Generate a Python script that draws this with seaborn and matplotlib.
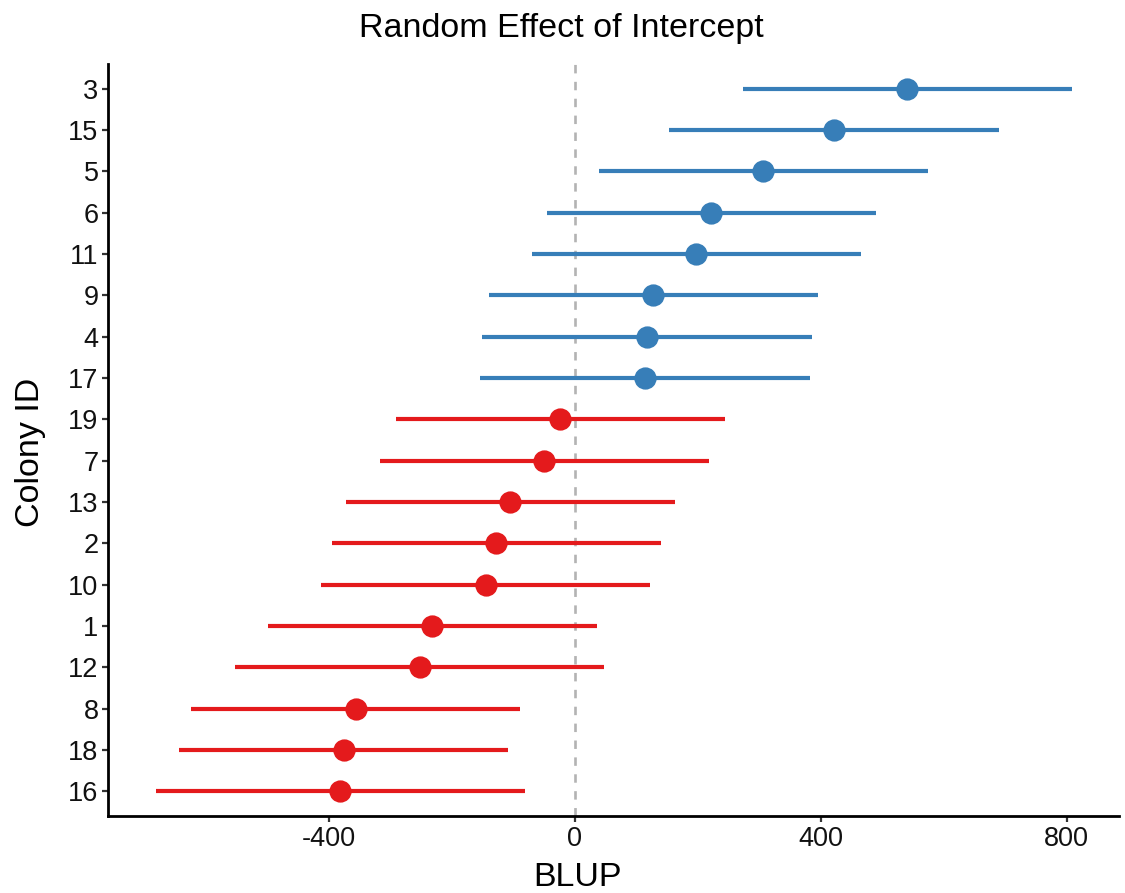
import matplotlib
matplotlib.use("Agg")
import matplotlib.pyplot as plt
import seaborn as sns
import pandas as pd
import numpy as np

# ---- data ----
colony = ["3", "15", "5", "6", "11", "9", "4", "17", "19", "7", "13", "2", "10", "1", "12", "8", "18", "16"]
blup = [541, 421, 306, 222, 197, 128, 118, 114, -23, -50, -105, -127, -144, -232, -252, -355, -375, -381]
lower = [274, 154, 39, -45, -70, -139, -150, -153, -291, -317, -372, -395, -412, -499, -552, -623, -643, -680]
upper = [809, 690, 574, 490, 465, 396, 386, 382, 244, 218, 163, 141, 123, 36, 48, -88, -108, -81]
group = ["pos"] * 8 + ["neg"] * 10
palette = {"pos": "#377EB8", "neg": "#E41A1C"}

# long format: lower / estimate / upper per colony; median -> estimate, 100% PI -> interval
rows = []
for c, b, lo, hi, g in zip(colony, blup, lower, upper, group):
    for v in (lo, b, hi):
        rows.append({"Colony": c, "BLUP": v, "group": g})
df = pd.DataFrame(rows)

sns.set_theme(style="ticks")
plt.rcParams["font.family"] = ["Liberation Sans", "DejaVu Sans"]

W, H = 1125, 893
fig = plt.figure(figsize=(W / 100, H / 100), dpi=100)
ax = fig.add_axes([108.3 / W, 1 - 816 / H, (1119 - 108.3) / W, (816 - 64) / H])

ax.axvline(0, color="#B3B3B3", linestyle=(0, (3.2, 3.2)), linewidth=1.9, zorder=0)

sns.pointplot(data=df, x="BLUP", y="Colony", hue="group", order=colony,
              hue_order=["pos", "neg"], palette=palette,
              estimator="median", errorbar=("pi", 100),
              linestyle="none", markers="o", markersize=14,
              err_kws={"linewidth": 3.0, "solid_capstyle": "butt"},
              dodge=False, legend=False, ax=ax)

ax.set_xlim(-758, 885)
ax.set_ylim(len(colony) - 1 + 0.6, -0.6)
ax.set_xticks([-400, 0, 400, 800])
ax.set_xticklabels(["-400", "0", "400", "800"])
ax.set_xlabel("")
ax.set_ylabel("")

for s in ["top", "right"]:
    ax.spines[s].set_visible(False)
for s in ["left", "bottom"]:
    ax.spines[s].set_color("black")
    ax.spines[s].set_linewidth(2.0)

ax.tick_params(axis="both", which="major", length=4, width=1.6, color="#333333",
               labelsize=19.5, labelcolor="#111111", pad=3)

fig.text(561 / W, 1 - 28 / H, "Random Effect of Intercept", ha="center", va="center",
         fontsize=24.5, color="black")
fig.text(578 / W, 1 - 878 / H, "BLUP", ha="center", va="center", fontsize=24.5, color="black")
fig.text(30 / W, 1 - 452 / H, "Colony ID", ha="center", va="center", rotation=90,
         fontsize=24.5, color="black")

fig.savefig("out.png", dpi=100, facecolor="white")
